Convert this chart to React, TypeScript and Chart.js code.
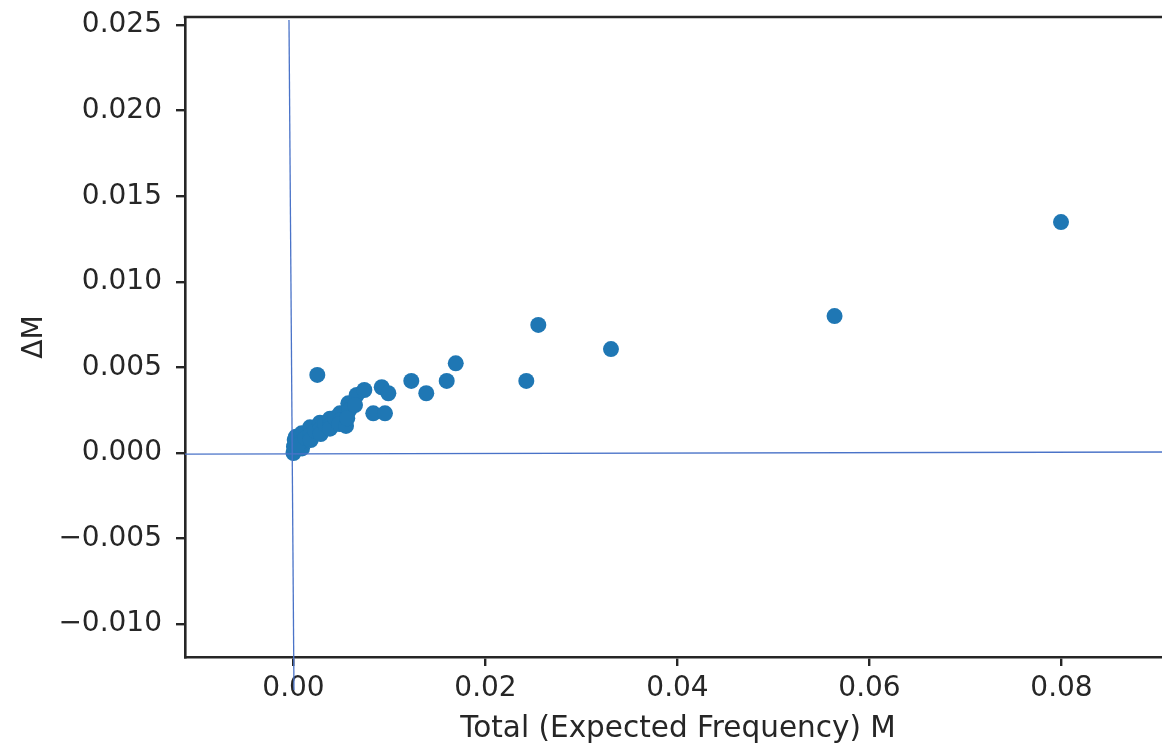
import { useEffect, useRef } from "react";
import { Chart, registerables } from "chart.js";

Chart.register(...registerables);

// Scatter data: Total (Expected Frequency) M vs ΔM
const totalFreq = [
  0.0, 0.00005, 0.00013, 0.00026, 0.00085, 0.00085, 0.00089, 0.00047, 0.00125,
  0.00172, 0.00172, 0.00179, 0.00224, 0.00276, 0.00276, 0.00283, 0.00328,
  0.0038, 0.00388, 0.0038, 0.00432, 0.00484, 0.00492, 0.00477, 0.00571,
  0.00581, 0.00547, 0.0056, 0.00658, 0.00641, 0.00738, 0.00831, 0.00953,
  0.00919, 0.00988, 0.01227, 0.01383, 0.01596, 0.0169, 0.02425, 0.0255,
  0.03307, 0.05636, 0.07995, 0.00248,
];
const deltaM = [
  0.0, 0.00037, 0.00076, 0.00095, 0.00115, 0.00066, 0.00027, 0.00047, 0.00088,
  0.0015, 0.00105, 0.00076, 0.00129, 0.00177, 0.00138, 0.00111, 0.00169,
  0.002, 0.00164, 0.00142, 0.00204, 0.00232, 0.00193, 0.00169, 0.0029,
  0.00251, 0.00158, 0.00203, 0.00339, 0.0028, 0.00368, 0.00232, 0.00232,
  0.00384, 0.00349, 0.00421, 0.00349, 0.00421, 0.00524, 0.00421, 0.00748,
  0.00607, 0.008, 0.01349, 0.00456,
];

// Reference lines (x = 0 and y = 0 guides)
const vLineX = [-0.00047, 0.00005];
const vLineY = [0.02529, -0.01384];
const hLineX = [-0.0113, 0.0914];
const hLineY = [-0.00006, 0.00006];

// Axis ticks and ranges
const xTicks = [0.0, 0.02, 0.04, 0.06, 0.08];
const yTicks = [-0.01, -0.005, 0.0, 0.005, 0.01, 0.015, 0.02, 0.025];
const xRange = [-0.011302, 0.091406];
const yRange = [-0.011916, 0.02547];

const FONT = "'DejaVu Sans', sans-serif";
const INK = "#262626";
const fmt = (v: number, d: number) =>
  (v < -1e-12 ? "\u2212" : "") + Math.abs(v).toFixed(d);

const topSpine = {
  id: "topSpine",
  afterDraw(chart: any) {
    const { ctx, chartArea } = chart;
    ctx.save();
    ctx.strokeStyle = INK;
    ctx.lineWidth = 2.6;
    ctx.beginPath();
    ctx.moveTo(chartArea.left - 1.3, chartArea.top);
    ctx.lineTo(chartArea.right, chartArea.top);
    ctx.stroke();
    ctx.restore();
  },
};

export default function App() {
  const ref = useRef<HTMLCanvasElement | null>(null);

  useEffect(() => {
    if (!ref.current) return;
    const chart = new Chart(ref.current, {
      type: "scatter",
      data: {
        datasets: [
          {
            data: vLineX.map((x, i) => ({ x, y: vLineY[i] })),
            showLine: true,
            borderColor: "#4a73c8",
            borderWidth: 1.3,
            pointRadius: 0,
            clip: false as any,
            order: 0,
          },
          {
            data: hLineX.map((x, i) => ({ x, y: hLineY[i] })),
            showLine: true,
            borderColor: "#4a73c8",
            borderWidth: 1.3,
            pointRadius: 0,
            clip: false as any,
            order: 0,
          },
          {
            data: totalFreq.map((x, i) => ({ x, y: deltaM[i] })),
            backgroundColor: "#1f77b4",
            borderColor: "#1f77b4",
            borderWidth: 0,
            pointRadius: 8,
            order: 1,
          },
        ],
      },
      options: {
        responsive: false,
        animation: false,
        devicePixelRatio: 1,
        layout: { padding: { left: 0, top: 17, right: 0, bottom: 0 } },
        plugins: {
          legend: { display: false },
          tooltip: { enabled: false },
        },
        scales: {
          x: {
            type: "linear",
            min: xRange[0],
            max: xRange[1],
            afterFit: (s: any) => {
              s.height = 90;
              s.paddingLeft = 0;
              s.paddingRight = 0;
              s.paddingTop = 0;
              s.paddingBottom = 0;
            },
            afterBuildTicks: (s: any) => {
              s.ticks = xTicks.map((value) => ({ value }));
            },
            ticks: {
              color: INK,
              font: { family: FONT, size: 28 },
              padding: 6,
              maxRotation: 0,
              callback: (v: any) => fmt(Number(v), 2),
            },
            grid: {
              drawOnChartArea: false,
              drawTicks: true,
              tickLength: 9,
              color: INK,
              lineWidth: 2.4,
            },
            border: { display: true, color: INK, width: 2.6 },
            title: {
              display: true,
              text: "Total (Expected Frequency) M",
              color: INK,
              font: { family: FONT, size: 29.5 },
              padding: { top: 0, bottom: 0 },
            },
          },
          y: {
            type: "linear",
            min: yRange[0],
            max: yRange[1],
            afterFit: (s: any) => {
              s.width = 185;
              s.paddingLeft = 0;
              s.paddingRight = 0;
              s.paddingTop = 0;
              s.paddingBottom = 0;
            },
            afterBuildTicks: (s: any) => {
              s.ticks = yTicks.map((value) => ({ value }));
            },
            ticks: {
              color: INK,
              font: { family: FONT, size: 28 },
              padding: 14,
              callback: (v: any) => fmt(Number(v), 3),
            },
            grid: {
              drawOnChartArea: false,
              drawTicks: true,
              tickLength: 9,
              color: INK,
              lineWidth: 2.4,
            },
            border: { display: true, color: INK, width: 2.6 },
            title: {
              display: true,
              text: "\u0394M",
              color: INK,
              font: { family: FONT, size: 28 },
              padding: { top: 18, bottom: 0 },
            },
          },
        },
      },
      plugins: [topSpine],
    });
    return () => chart.destroy();
  }, []);

  return (
    <div
      style={{
        position: "fixed",
        left: 0,
        top: 0,
        width: 1162,
        height: 747,
        overflow: "hidden",
        background: "#fff",
      }}
    >
      <div style={{ width: 1179, height: 747 }}>
        <canvas
          ref={ref}
          width={1179}
          height={747}
          style={{ display: "block", width: 1179, height: 747 }}
        />
      </div>
    </div>
  );
}
